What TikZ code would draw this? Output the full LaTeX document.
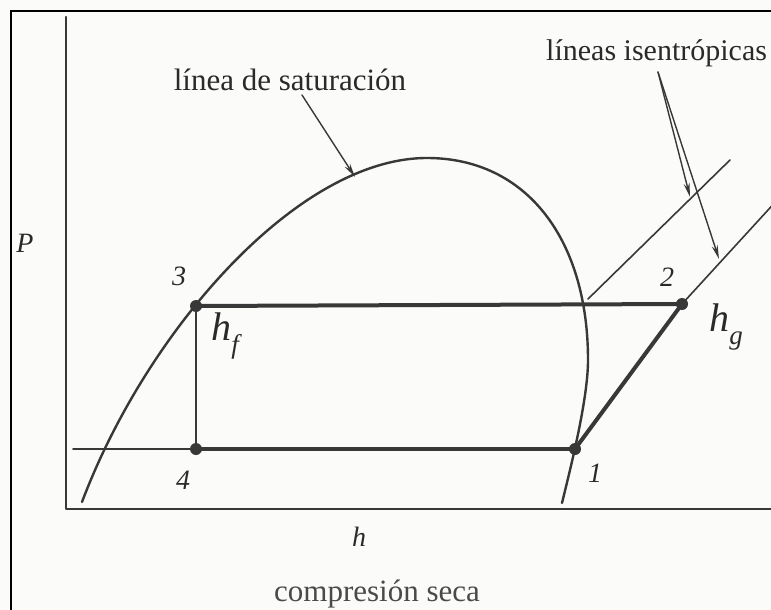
\documentclass[tikz,border=0pt]{standalone}
\usepackage{fontspec}
\setmainfont{Liberation Serif}
\usetikzlibrary{arrows.meta}
\definecolor{lineink}{HTML}{383838}
\definecolor{txtink}{HTML}{2A2A2A}
\definecolor{capink}{HTML}{4A4A4A}
\definecolor{bgcol}{HTML}{FBFBF9}
\newcommand{\hsub}[1]{h\raisebox{-0.32em}{\fontsize{27}{27}\selectfont #1}}
\begin{document}
\begin{tikzpicture}[x=1pt,y=-1pt,
  ink/.style={draw=lineink, line cap=round, line join=round},
  framestyle/.style={draw=black, line width=2pt},
  axisline/.style={ink, line width=2.2pt},
  domeline/.style={ink, line width=2.4pt},
  process/.style={ink, line width=4pt},
  midline/.style={ink, line width=2.4pt},
  thinline/.style={ink, line width=1.6pt},
  pointer/.style={ink, line width=1.4pt, -{Stealth[length=14pt,width=6pt]}},
  statept/.style={circle, fill=lineink, inner sep=0pt, minimum size=12pt},
  lbl/.style={font=\fontsize{31}{31}\selectfont, text=txtink, inner sep=0pt},
  num/.style={font=\fontsize{28}{28}\selectfont\itshape, text=txtink, inner sep=0pt},
  mathlbl/.style={font=\fontsize{40}{40}\selectfont\itshape, text=txtink, inner sep=0pt}
  ]
\useasboundingbox (0,0) rectangle (771,610);
\fill[bgcol] (0,0) rectangle (771,610);
\clip (0,0) rectangle (771,610);
% frame
\draw[framestyle] (11,630) -- (11,11) -- (790,11);
% axes
\coordinate (ytop) at (66,17);
\coordinate (origin) at (66,509);
\coordinate (xend) at (790,509);
\draw[axisline] (ytop) -- (origin) -- (xend);
% state points
\node[statept] (p1) at (575,449) {};
\node[statept] (p2) at (682,304) {};
\node[statept] (p3) at (196,306) {};
\node[statept] (p4) at (196,449) {};
% saturation dome
\coordinate (domeL) at (82,502);
\coordinate (domeTop) at (427,158);
\coordinate (domeBulge) at (588,360);
\coordinate (domeR) at (562,503);
\draw[domeline] (domeL) .. controls (146,332) and (297,158) .. (domeTop)
  .. controls (527,158) and (588,240) .. (domeBulge)
  .. controls (588,400) and (570,470) .. (domeR);
% isentropic lines
\coordinate (i1a) at (588,299);
\coordinate (i1b) at (730,160);
\draw[thinline] (i1a) -- (i1b);
\coordinate (i2b) at (790,186);
\draw[thinline] (p2.center) -- (i2b);
\coordinate (lowleft) at (73,449);
\draw[thinline] (lowleft) -- (p4.center);
% cycle
\draw[process] (p3.center) -- (p2.center);
\draw[process] (p4.center) -- (p1.center);
\draw[process] (p1.center) -- (p2.center);
\draw[midline] (p3.center) -- (p4.center);
% labels
\node[lbl] (satlbl) at (290,80) {línea de saturación};
\node[lbl, anchor=west, font=\fontsize{30}{30}\selectfont] (isolbl) at (546,53) {líneas isentrópicas};
\node[lbl, text=capink, anchor=base] (caption) at (377,601) {compresión seca};
\node[num] (Plbl) at (25,243) {P};
\node[num] (hlbl) at (359,537) {h};
\node[num] (l1) at (595,473) {1};
\node[num] (l2) at (667,277) {2};
\node[num] (l3) at (179,276) {3};
\node[num] (l4) at (183,480) {4};
\node[mathlbl] (hf) at (225,336) {\hsub{f}};
\node[mathlbl] (hg) at (726,327) {\hsub{g}};
% pointers
\coordinate (satfrom) at (302,95);
\coordinate (sattip) at (355,177);
\draw[pointer] (satfrom) -- (sattip);
\coordinate (isofrom) at (658,72);
\coordinate (iso1tip) at (690,197);
\coordinate (iso2tip) at (719,259);
\draw[pointer] (isofrom) -- (iso1tip);
\draw[pointer] (isofrom) -- (iso2tip);
\end{tikzpicture}
\end{document}
